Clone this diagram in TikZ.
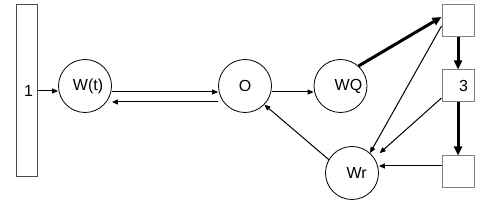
\documentclass[tikz,border=0pt]{standalone}
\usepackage{fontspec}
\setmainfont{Liberation Sans}
\usetikzlibrary{arrows.meta}

\begin{document}
\begin{tikzpicture}[x=0.75pt, y=-0.75pt,
      every node/.style={font=\fontsize{12}{14}\selectfont},
      pl/.style={draw, circle, line width=0.6pt, minimum size=39.75pt, inner sep=0pt},
      sq/.style={draw=gray, line width=0.75pt, minimum size=24pt, inner sep=0pt},
      ar/.style={-{Triangle[length=4.5pt, width=3.75pt]}, line width=0.75pt},
      thk/.style={-{Triangle[length=6.75pt, width=6pt]}, line width=2.25pt}]
    \useasboundingbox (0,0) rectangle (485,206);
    \node[draw=black!70, line width=0.75pt, minimum width=15.75pt, minimum height=129pt, inner sep=0pt] (bar) at (26.5,91) {\hspace{3pt}1};
    \node[pl] (wt) at (85,86)    {\hspace{4.5pt}W(t)};
    \node[pl] (o)  at (245,86)   {O\hspace{7.5pt}};
    \node[pl] (wq) at (340.5,86) {\hspace{12pt}WQ};
    \node[pl] (wr) at (352,173)  {\hspace{7pt}Wr};
    \node[sq] (sqtop) at (458,21)  {};
    \node[sq] (sq3)   at (458,86)  {\makebox[15pt][r]{3}};
    \node[sq] (sqbot) at (458,172) {};
    % left part
    \draw[ar] (bar.east) -- (wt.west |- bar.east);
    \draw[ar] ([yshift=-4.5pt]wt.east) -- ([yshift=-4.5pt]o.west);
    \draw[ar] ([yshift=-12pt]o.west) -- ([yshift=-12pt]wt.east);
    \draw[ar] ([yshift=-4.5pt]o.east) -- ([yshift=-4.5pt]wq.west);
    % right part
    \draw[thk] (wq.48) -- ([yshift=3pt]sqtop.west);
    \draw[thk] (sqtop.south) -- (sq3.north);
    \draw[thk] (sq3.south) -- (sqbot.north);
    \draw[ar] ([yshift=-3.75pt]sqtop.west) -- (wr.48);
    \draw[ar, shorten >=5.4pt] ([yshift=-9pt]sq3.west) -- (wr.34);
    \draw[ar] ([yshift=4.5pt]sqbot.west) -- ([yshift=5.25pt]wr.east);
    \draw[ar] (wr.150) -- (o.-44);
\end{tikzpicture}
\end{document}
